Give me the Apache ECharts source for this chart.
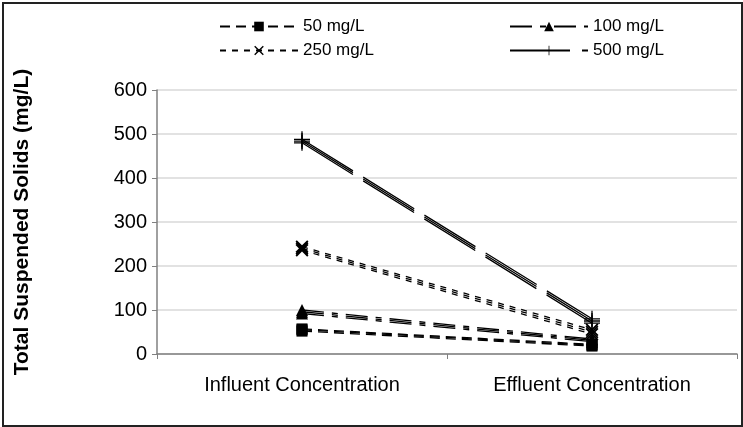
<!DOCTYPE html>
<html>
<head>
<meta charset="utf-8">
<script src="https://cdn.jsdelivr.net/npm/echarts@6/dist/echarts.min.js"></script>
<style>
html, body { margin: 0; padding: 0; background: #fff; }
#chart { position: absolute; left: 2px; top: 2px; width: 737px; height: 421px; border: 2px solid #222; }
</style>
</head>
<body>
<div id="chart"></div>
<script>
// categories
let categories = ['Influent Concentration', 'Effluent Concentration']
let yTicks = [0, 100, 200, 300, 400, 500, 600]

// replicate runs for each dose (influent, effluent)
let runs50 = [[52, 18], [55, 20], [57, 22]]
let runs100 = [[92, 28], [96, 31], [100, 34]]
let runs250 = [[236, 45], [240, 50], [244, 55]]
let runs500 = [[480, 70], [484, 75], [488, 80]]

let crossPath = 'path://M1,0 L5,4 L9,0 L10,1 L6,5 L10,9 L9,10 L5,6 L1,10 L0,9 L4,5 L0,1 Z'
let plusPath = 'path://M4.6,0 H5.4 V4.6 H10 V5.4 H5.4 V10 H4.6 V5.4 H0 V4.6 H4.6 Z'

let groups = [
    { name: '50 mg/L', runs: runs50, symbol: 'rect', size: 11, dash: [10, 6] },
    { name: '100 mg/L', runs: runs100, symbol: 'triangle', size: 12, dash: [22, 8, 6, 8] },
    { name: '250 mg/L', runs: runs250, symbol: crossPath, size: 13, dash: [6, 6] },
    { name: '500 mg/L', runs: runs500, symbol: plusPath, size: 16, dash: [60, 12] }
]

let series = []
groups.forEach(g => {
    g.runs.forEach(r => {
        series.push({
            name: g.name,
            type: 'line',
            data: r,
            symbol: g.symbol,
            symbolSize: g.size,
            showAllSymbol: true,
            itemStyle: { color: '#000' },
            lineStyle: { color: '#000', width: 1.3, type: g.dash },
            animation: false
        })
    })
})

let legendBase = {
    itemWidth: 78,
    itemHeight: 12,
    itemGap: 4,
    textStyle: { fontFamily: 'Liberation Sans, Arial', fontSize: 17, color: '#000' }
}

let chart = echarts.init(document.getElementById('chart'))
chart.setOption({
    backgroundColor: '#fff',
    legend: [
        Object.assign({ data: ['50 mg/L'], left: 210, top: 9 }, legendBase),
        Object.assign({ data: ['100 mg/L'], left: 500, top: 9 }, legendBase),
        Object.assign({ data: ['250 mg/L'], left: 210, top: 33 }, legendBase),
        Object.assign({ data: ['500 mg/L'], left: 500, top: 33 }, legendBase)
    ],
    grid: { left: 148, right: 4, top: 86, bottom: 71 },
    xAxis: {
        type: 'category',
        data: categories,
        boundaryGap: true,
        axisLine: { lineStyle: { color: '#808080', width: 1.5 } },
        axisTick: { show: true, length: 5, lineStyle: { color: '#808080' } },
        axisLabel: { color: '#000', fontFamily: 'Liberation Sans, Arial', fontSize: 20, margin: 21 }
    },
    yAxis: {
        type: 'value',
        min: yTicks[0],
        max: yTicks[yTicks.length - 1],
        interval: 100,
        name: 'Total Suspended Solids (mg/L)',
        nameLocation: 'middle',
        nameGap: 124,
        nameTextStyle: { color: '#000', fontFamily: 'Liberation Sans, Arial', fontSize: 21, fontWeight: 'bold' },
        axisLine: { show: true, lineStyle: { color: '#808080', width: 1.5 } },
        axisTick: { show: true, length: 5, lineStyle: { color: '#808080' } },
        axisLabel: { color: '#000', fontFamily: 'Liberation Sans, Arial', fontSize: 20, margin: 10 },
        splitLine: { lineStyle: { color: '#d9d9d9', width: 1.5 } }
    },
    series: series
})
</script>
</body>
</html>
